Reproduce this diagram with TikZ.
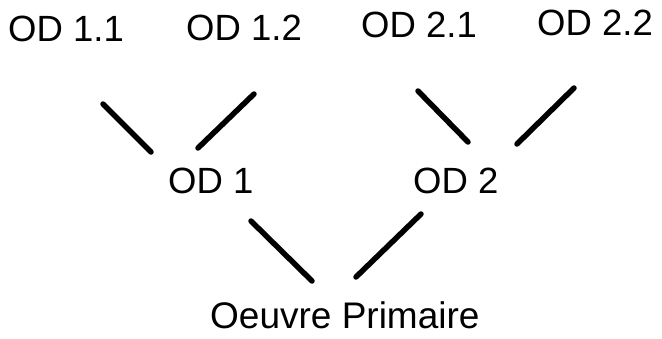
\documentclass[tikz,border=0pt]{standalone}
\usepackage{fontspec}
\setmainfont{Liberation Sans}
\begin{document}
\begin{tikzpicture}[x=1pt,y=-1pt,
  label/.style={anchor=base west,inner sep=0pt,font=\fontsize{36.5}{40}\selectfont},
  link/.style={line width=5.5pt,line cap=round}]
\useasboundingbox[fill=white] (0,0) rectangle (662,338);
% leaf labels
\node[label] (od11) at (8,41.5) {OD 1.1};
\node[label] (od12) at (186,40) {OD 1.2};
\node[label] (od21) at (361,37) {OD 2.1};
\node[label] (od22) at (537,35) {OD 2.2};
% middle level
\node[label] (od1) at (168,193) {OD 1};
\node[label] (od2) at (413,193) {OD 2};
% root
\node[label,font=\fontsize{37}{40}\selectfont] (root) at (210,328) {Oeuvre Primaire};
% connector end points
\coordinate (a1) at (103,104); \coordinate (a2) at (151,152);
\coordinate (b1) at (254,94);  \coordinate (b2) at (198,148);
\coordinate (c1) at (418,91);  \coordinate (c2) at (468,142);
\coordinate (d1) at (574,88);  \coordinate (d2) at (517,144);
\coordinate (e1) at (251,221); \coordinate (e2) at (312,281);
\coordinate (f1) at (421,214); \coordinate (f2) at (356,277);
\draw[link] (a1) -- (a2);
\draw[link] (b1) -- (b2);
\draw[link] (c1) -- (c2);
\draw[link] (d1) -- (d2);
\draw[link] (e1) -- (e2);
\draw[link] (f1) -- (f2);
\end{tikzpicture}
\end{document}
